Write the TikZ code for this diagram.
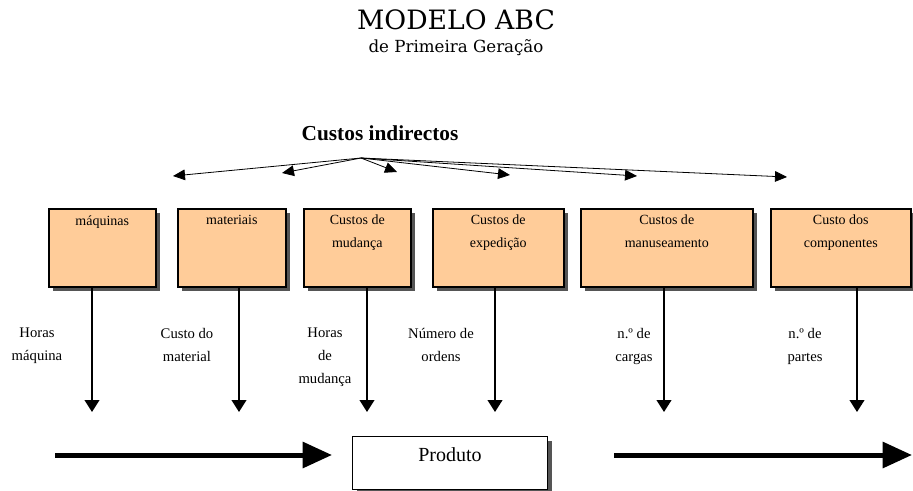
\documentclass[tikz,border=0pt]{standalone}
\usepackage{fontspec}
\setmainfont{Liberation Serif}
\newfontfamily\titlefont{DejaVu Serif}
\usepackage{xcolor}
\definecolor{peach}{HTML}{FFCC99}
\definecolor{shadowgray}{HTML}{555555}
\usetikzlibrary{arrows.meta,shadows,positioning}

\begin{document}
\begin{tikzpicture}[x=0.75pt,y=-0.75pt,
  costbox/.style={draw,line width=1.2pt,fill=peach,anchor=north west,
                  minimum height=58.5pt,inner sep=0pt,
                  drop shadow={shadow xshift=3pt,shadow yshift=-3pt,
                               fill=shadowgray,opacity=1}},
  prodbox/.style={draw,line width=1pt,fill=white,anchor=north west,
                  minimum width=146.25pt,minimum height=39.75pt,inner sep=0pt,
                  drop shadow={shadow xshift=3pt,shadow yshift=-3pt,
                               fill=shadowgray,opacity=1}},
  boxtext/.style={anchor=north,inner sep=0pt,align=center,
                  font=\fontsize{10.5}{17}\selectfont},
  driver/.style={anchor=north,inner sep=0pt,align=center,
                 font=\fontsize{11}{17}\selectfont},
  costarrow/.style={-{Triangle[length=9pt,width=8pt]},line width=0.6pt},
  driverarrow/.style={-{Triangle[length=9pt,width=11pt]},line width=1.5pt},
  flowarrow/.style={-{Triangle[length=22pt,width=19pt]},line width=3.75pt}
]
\useasboundingbox (0,0) rectangle (913,490);

% titles
\node (title) at (456,20) {\titlefont\fontsize{20}{24}\selectfont MODELO ABC};
\node (subtitle) at (456,48) {\titlefont\fontsize{12.5}{15}\selectfont de Primeira Geração};
\node[font=\bfseries\fontsize{16}{19}\selectfont] (indir) at (380,133) {Custos indirectos};

% spreading of indirect costs
\coordinate (src) at (361,158);
\coordinate (ci1) at (173,176);
\coordinate (ci2) at (282,173);
\coordinate (ci3) at (397,172);
\coordinate (ci4) at (510,175);
\coordinate (ci5) at (637,176);
\coordinate (ci6) at (787,177);
\foreach \i in {1,...,6}
  \draw[costarrow] (src) -- (ci\i);

% activity centres
\node[costbox,minimum width=80.25pt] (maquinas) at (48,208) {};
\node[costbox,minimum width=81pt] (materiais) at (177,208) {};
\node[costbox,minimum width=80.25pt] (mudanca) at (303,208) {};
\node[costbox,minimum width=98.25pt] (expedicao) at (432,208) {};
\node[costbox,minimum width=129pt] (manuseamento) at (580,208) {};
\node[costbox,minimum width=105pt] (componentes) at (770,208) {};

\node[boxtext] (tmaquinas) at (maquinas.north |- 0,215) {máquinas};
\node[boxtext] (tmateriais) at (materiais.north |- 0,215) {materiais};
\node[boxtext] (tmudanca) at (mudanca.north |- 0,215) {Custos de\\mudança};
\node[boxtext] (texpedicao) at (expedicao.north |- 0,215) {Custos de\\expedição};
\node[boxtext] (tmanuseamento) at (manuseamento.north |- 0,215) {Custos de\\manuseamento};
\node[boxtext] (tcomponentes) at (componentes.north |- 0,215) {Custo dos\\componentes};

% cost drivers
\coordinate (d1) at (92,412);
\coordinate (d2) at (239,412);
\coordinate (d3) at (367,412);
\coordinate (d4) at (495,412);
\coordinate (d5) at (664,412);
\coordinate (d6) at (857,412);
\draw[driverarrow] (d1 |- maquinas.south) -- (d1);
\draw[driverarrow] (d2 |- materiais.south) -- (d2);
\draw[driverarrow] (d3 |- mudanca.south) -- (d3);
\draw[driverarrow] (d4 |- expedicao.south) -- (d4);
\draw[driverarrow] (d5 |- manuseamento.south) -- (d5);
\draw[driverarrow] (d6 |- componentes.south) -- (d6);

\node[driver] (horasmaq) at (37,328) {Horas\\máquina};
\node[driver] (customat) at (187,328) {Custo do\\material};
\node[driver] (horasmud) at (325,328) {Horas\\de\\mudança};
\node[driver] (numord) at (441,328) {Número de\\ordens};
\node[driver] (ncargas) at (634,328) {n.º de\\cargas};
\node[driver] (npartes) at (805,328) {n.º de\\partes};

% product
\node[prodbox] (prod) at (352,436) {};
\node[font=\fontsize{15}{18}\selectfont] (prodtext) at (450,455) {Produto};
\coordinate (flowin) at (55,455);
\coordinate (flowout) at (912,455);
\draw[flowarrow,shorten >=15pt] (flowin) -- (flowin -| prod.west);
\draw[flowarrow,shorten <=49.5pt] (flowin -| prod.east) -- (flowout);
\end{tikzpicture}
\end{document}
